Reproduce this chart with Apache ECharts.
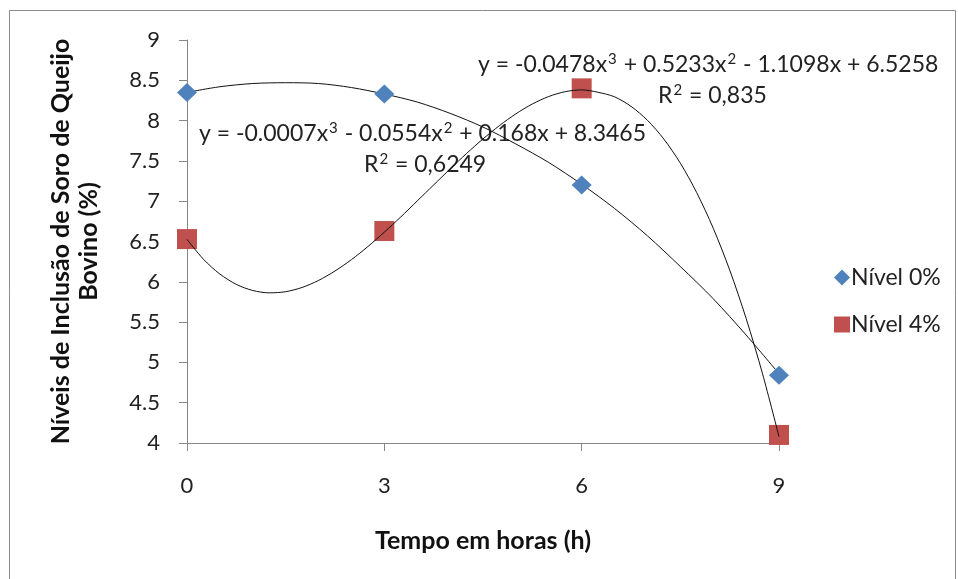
<!DOCTYPE html>
<html><head><meta charset="utf-8">
<script src="https://cdn.jsdelivr.net/npm/echarts@6/dist/echarts.min.js"></script>
<style>html,body{margin:0;padding:0;background:#fff}#c{width:958px;height:579px}</style>
</head><body><div id="c"></div>
<script>
// Observed points
const hours = [0, 3, 6, 9];
const nivel0 = [8.35, 8.33, 7.20, 4.84];
const nivel4 = [6.53, 6.63, 8.40, 4.10];
// Trendline curves
const curve0X = [0, 0.5, 1, 1.5, 2, 2.5, 3, 3.5, 4, 4.5, 5, 5.5, 6, 6.5, 7, 7.5, 8, 8.5, 9];
const trend0 = [8.35, 8.42, 8.46, 8.47, 8.46, 8.41, 8.33, 8.23, 8.09, 7.92, 7.71, 7.48, 7.21, 6.91, 6.57, 6.19, 5.79, 5.34, 4.86];
const curve4X = [0, 0.25, 0.5, 0.75, 1, 1.25, 1.5, 1.75, 2, 2.25, 2.5, 2.75, 3, 3.25, 3.5, 3.75, 4, 4.25, 4.5, 4.75,
                 5, 5.25, 5.5, 5.75, 6, 6.25, 6.5, 6.75, 7, 7.25, 7.5, 7.75, 8, 8.25, 8.5, 8.75, 9];
const trend4 = [6.526, 6.280, 6.096, 5.968, 5.892, 5.863, 5.877, 5.930, 6.017, 6.134, 6.275, 6.437, 6.616, 6.805, 7.003, 7.202,
                7.400, 7.592, 7.773, 7.938, 8.084, 8.206, 8.299, 8.359, 8.381, 8.351, 8.295, 8.177, 8.004, 7.770, 7.472, 7.105,
                6.665, 6.147, 5.546, 4.858, 4.079];
const eq4 = 'y = -0.0478x{s|3} + 0.5233x{s|2} - 1.1098x + 6.5258';
const r4 = 'R{s|2} = 0,835';
const eq0 = 'y = -0.0007x{s|3} - 0.0554x{s|2} + 0.168x + 8.3465';
const r0 = 'R{s|2} = 0,6249';

const FONT = 'Lato';
const chart = echarts.init(document.getElementById('c'), null, {renderer: 'canvas'});
const pair = (xs, ys) => xs.map((x, i) => [x, ys[i]]);
const rich = {s: {fontSize: 15, verticalAlign: 'top', fill: '#222', fontFamily: FONT, lineHeight: 26, padding: [0, 1, 0, 1]}};
const txt = (x, y, t) => ({type: 'text', x: x, y: y,
  style: {text: t, fontSize: 23, fill: '#222', fontFamily: FONT, verticalAlign: 'middle', lineHeight: 26, rich: rich}});
chart.setOption({
  animation: false,
  backgroundColor: '#fff',
  textStyle: {fontFamily: FONT},
  grid: {left: 187, right: 179, top: 40, bottom: 136},
  xAxis: {
    type: 'value', min: 0, max: 9, interval: 3,
    axisLine: {show: true, onZero: false, lineStyle: {color: '#868686', width: 1}},
    axisTick: {show: true, length: 8, lineStyle: {color: '#868686'}},
    splitLine: {show: false},
    axisLabel: {color: '#222', fontSize: 22, margin: 32, fontFamily: FONT},
    name: 'Tempo em horas (h)', nameLocation: 'middle', nameGap: 85,
    nameTextStyle: {fontSize: 25, fontWeight: 'bold', color: '#111', fontFamily: FONT}
  },
  yAxis: {
    type: 'value', min: 4, max: 9, interval: 0.5,
    axisLine: {show: true, lineStyle: {color: '#868686', width: 1}},
    axisTick: {show: true, inside: false, length: 8, lineStyle: {color: '#868686'}},
    splitLine: {show: false},
    axisLabel: {color: '#222', fontSize: 22, margin: 27, fontFamily: FONT},
    name: 'Níveis de Inclusão de Soro de Queijo\nBovino (%)', nameLocation: 'middle', nameGap: 84, nameRotate: 90,
    nameTextStyle: {fontSize: 25, fontWeight: 'bold', color: '#111', lineHeight: 28, fontFamily: FONT}
  },
  legend: {
    orient: 'vertical', left: 829, top: 261, itemGap: 24, itemWidth: 16, itemHeight: 16,
    data: [{name: 'Nível 0%', icon: 'diamond'}, {name: 'Nível 4%', icon: 'rect'}],
    textStyle: {fontSize: 23, color: '#222', fontFamily: FONT, padding: [0, 0, 0, -4]}
  },
  series: [
    {name: 'trend0', type: 'line', data: pair(curve0X, trend0), smooth: 0.3, showSymbol: false, symbol: 'none',
     lineStyle: {color: '#111', width: 1}, z: 2, silent: true},
    {name: 'trend4', type: 'line', data: pair(curve4X, trend4), smooth: 0.3, showSymbol: false, symbol: 'none',
     lineStyle: {color: '#111', width: 1}, z: 2, silent: true},
    {name: 'Nível 0%', type: 'scatter', data: pair(hours, nivel0), symbol: 'diamond', symbolSize: [20, 19],
     itemStyle: {color: '#4F81BD', opacity: 1}, z: 3},
    {name: 'Nível 4%', type: 'scatter', data: pair(hours, nivel4), symbol: 'rect', symbolSize: [20, 20],
     itemStyle: {color: '#C0504D', opacity: 1}, z: 1}
  ],
  graphic: [
    {type: 'rect', shape: {x: 9.5, y: 10.5, width: 946, height: 580}, style: {fill: 'none', stroke: '#8c8c8c', lineWidth: 1}, silent: true},
    txt(478, 65, eq4),
    txt(658, 96, r4),
    txt(199, 134, eq0),
    txt(364, 165, r0)
  ]
});
</script></body></html>
